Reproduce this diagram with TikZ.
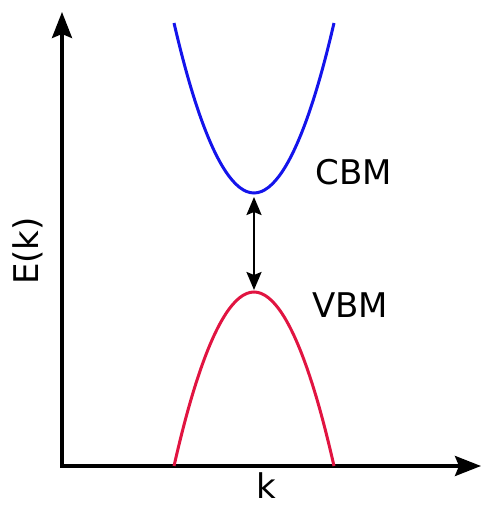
\documentclass[tikz,border=0pt]{standalone}
\usepackage{fontspec}
\setmainfont{DejaVu Sans}
\usetikzlibrary{arrows.meta}
\definecolor{cbblue}{RGB}{20,20,235}
\definecolor{vbred}{RGB}{225,20,65}
\begin{document}
\begin{tikzpicture}[x=1pt, y=1pt,
        axis/.style={line width=3.5pt, {Stealth[length=26pt,width=20pt,inset=4pt]}-{Stealth[length=26pt,width=20pt,inset=4pt]}},
        band/.style={line width=3pt},
        gap/.style={line width=2.4pt, {Stealth[length=18pt,width=15pt,inset=3pt]}-{Stealth[length=18pt,width=15pt,inset=3pt]}, shorten <=4pt, shorten >=2pt},
        lbl/.style={font=\fontsize{34}{40}\selectfont, inner sep=0pt}]
        \useasboundingbox (0,0) rectangle (481,505);
        \coordinate (o)    at (62,39);
        \coordinate (ytop) at (62,493);
        \coordinate (xend) at (481,39);
        \coordinate (cbm)  at (254,312);
        \coordinate (vbm)  at (254,213);

        \draw[axis] (ytop) -- (o) -- (xend);
        \draw[band, cbblue] (174,482) parabola bend (cbm) (334,482);
        \draw[band, vbred] (174,39) parabola bend (vbm) (334,39);
        \draw[gap] (cbm) -- (vbm);

        \node[lbl] (cbmlbl) at (354,333) {CBM};
        \node[lbl] (vbmlbl) at (350,200) {VBM};
        \node[lbl, anchor=north] (klbl) at (266,33) {k};
        \node[lbl, rotate=90] (elbl) at (28,254) {E(k)};
        \end{tikzpicture}
\end{document}
